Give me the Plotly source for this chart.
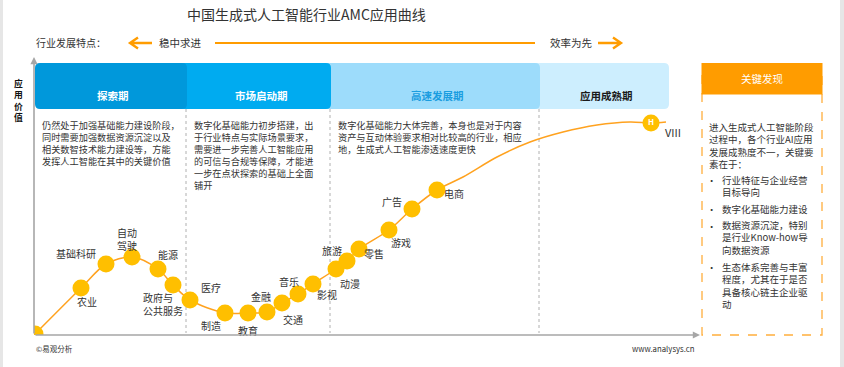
import plotly.graph_objects as go

# ---------------- data ----------------
industries = ["农业", "基础科研", "自动驾驶", "能源", "政府与公共服务", "医疗", "制造", "教育", "金融",
              "交通", "音乐", "影视", "旅游", "动漫", "零售", "游戏", "广告", "电商"]
maturity = [47, 72, 98, 124, 139, 156, 191, 214, 233, 248, 264, 279, 302, 313, 325, 355, 378, 403]
app_value = [47, 71, 78, 66, 50, 35, 22, 22, 23, 32, 41, 51, 66, 74, 86, 105, 126, 145]

origin_x, origin_y = [1], [1]
trend_x = [429, 463, 496, 529, 563, 596]
trend_y = [158, 178, 193, 203, 210, 213]
mature_x, mature_y, mature_label = [617], [212], ["VIII"]
end_x, end_y = [632], [213]

stages = ["探索期", "市场启动期", "高速发展期", "应用成熟期"]
stage_bounds = [1, 153, 297, 506, 635]
stage_texts = [
    ["仍然处于加强基础能力建设阶段，", "同时需要加强数据资源沉淀以及", "相关数智技术能力建设等，方能",
     "发挥人工智能在其中的关键价值"],
    ["数字化基础能力初步搭建，出", "于行业特点与实际场景要求，", "需要进一步完善人工智能应用",
     "的可信与合规等保障，才能进", "一步在点状探索的基础上全面", "铺开"],
    ["数字化基础能力大体完善，本身也是对于内容", "资产与互动体验要求相对比较高的行业，相应",
     "地，生成式人工智能渗透速度更快"],
    [],
]
key_intro = ["进入生成式人工智能阶段", "过程中，各个行业AI应用", "发展成熟度不一，关键要", "素在于："]
key_points = [["行业特征与企业经营", "目标导向"], ["数字化基础能力建设"],
              ["数据资源沉淀，特别", "是行业Know-how导", "向数据资源"],
              ["生态体系完善与丰富", "程度，尤其在于是否", "具备核心链主企业驱", "动"]]

# ---------------- styles ----------------
FONT = "Noto Sans CJK SC, Microsoft YaHei, sans-serif"
OFF = 0                      # page body margin is removed by post_script
W, H = 844, 367
TXT = "#333333"
ORANGE = "#FF9C00"
GOLD = "#FFBF00"
GRAY = "#A6A6A6"
stage_fill = ["#0098DB", "#00ABF0", "#9DDCFB", "#CDEEFE"]
stage_font = ["#FFFFFF", "#FFFFFF", "#1A9DE0", "#1A1A1A"]
display = {"自动驾驶": "自动<br>驾驶", "政府与公共服务": "政府与<br>公共服务"}
# label offsets in px (dx, dy downward), anchor
label_off = [(6, 13, "center"), (-30, -11, "center"), (-5, -18, "center"), (10, -15, "center"),
             (-31, 19, "left"), (21, -13, "center"), (-14, 12, "center"), (0, 17, "center"),
             (-6, -16, "center"), (11, 16, "center"), (-9, -13, "center"), (14, 10, "center"),
             (-4, -19, "center"), (3, 22, "center"), (15, 4, "center"), (12, 12, "center"),
             (-20, -8, "center"), (17, 3, "center")]


def PX(x):
    return (x - OFF) / W


def PY(y):
    return 1 - (y - OFF) / H


shapes, ann = [], []


def text(x, y, s, size, color=TXT, xanchor="left", yanchor="middle", xref="paper", bold=False, align="left"):
    ann.append(dict(x=x if xref == "x" else PX(x), y=PY(y), xref=xref, yref="paper",
                    text=f"<b>{s}</b>" if bold else s, showarrow=False, borderpad=0, align=align,
                    font=dict(size=size, color=color, family=FONT), xanchor=xanchor, yanchor=yanchor))


def block(x, y_first, lines, size, spacing, xref="paper", **kw):
    ymid = y_first + spacing * (len(lines) - 1) / 2
    text(x, ymid, "<br>".join(lines), size, xref=xref, **kw)


fig = go.Figure()

# curve
fig.add_trace(go.Scatter(x=origin_x + maturity + trend_x + mature_x + end_x,
                         y=origin_y + app_value + trend_y + mature_y + end_y,
                         mode="lines", line=dict(color="#FFA21F", width=1.5, shape="spline", smoothing=0.9),
                         hoverinfo="skip", showlegend=False))
fig.add_trace(go.Scatter(x=origin_x + maturity, y=origin_y + app_value, mode="markers",
                         marker=dict(size=17, color=GOLD), text=[""] + industries,
                         hoverinfo="text", showlegend=False))
fig.add_trace(go.Scatter(x=mature_x, y=mature_y, mode="markers+text", text=["<b>H</b>"],
                         textposition="middle center", textfont=dict(size=8, color="white", family=FONT),
                         marker=dict(size=17, color=GOLD), hoverinfo="skip", showlegend=False))

# point labels
for name, xv, yv, (dx, dy, anc) in zip(industries, maturity, app_value, label_off):
    ann.append(dict(x=xv, y=yv, xref="x", yref="y", text=display.get(name, name), showarrow=False,
                    xshift=dx, yshift=-dy, xanchor=anc, align="left", borderpad=0,
                    font=dict(size=10, color=TXT, family=FONT)))
ann.append(dict(x=mature_x[0], y=mature_y[0], xref="x", yref="y", text=mature_label[0], showarrow=False,
                xshift=22, yshift=-9, font=dict(size=11, color=TXT, family=FONT)))

# stage header boxes (drawn right to left so left boxes overlap)
r, ry = 5, 5 / H
Yt, Yb = PY(63), PY(109)
for i in reversed(range(len(stages))):
    x0 = stage_bounds[i] - (8 if i > 0 else 0)
    x1 = stage_bounds[i + 1]
    path = (f"M {x0 + r},{Yt} L {x1 - r},{Yt} Q {x1},{Yt} {x1},{Yt - ry} L {x1},{Yb + ry} "
            f"Q {x1},{Yb} {x1 - r},{Yb} L {x0 + r},{Yb} Q {x0},{Yb} {x0},{Yb + ry} "
            f"L {x0},{Yt - ry} Q {x0},{Yt} {x0 + r},{Yt} Z")
    shapes.append(dict(type="path", path=path, xref="x", yref="paper", fillcolor=stage_fill[i],
                       line=dict(width=0), layer="below"))
for i, s in enumerate(stages):
    ann.append(dict(x=(stage_bounds[i] + stage_bounds[i + 1]) / 2 + 2, y=PY(86), xref="x", yref="paper",
                    text=f"<b>{s}</b>", showarrow=False, font=dict(size=10.5, color=stage_font[i], family=FONT)))
    if stage_texts[i]:
        block(stage_bounds[i] + 6, 125.5, stage_texts[i], 9.2, 11.96, xref="x")

# separators
for b in stage_bounds[1:4]:
    shapes.append(dict(type="line", x0=b - 1, x1=b - 1, y0=PY(109), y1=PY(333), xref="x", yref="paper",
                       line=dict(color="#B0B0B0", width=1, dash="dot"), layer="below"))

# axes with arrows
ann.append(dict(x=0, y=278, ax=0, ay=0, xref="x", yref="y", axref="x", ayref="y", text="", showarrow=True,
                arrowhead=2, arrowsize=0.9, arrowwidth=1.6, arrowcolor=GRAY))
ann.append(dict(x=666, y=0, ax=0, ay=0, xref="x", yref="y", axref="x", ayref="y", text="", showarrow=True,
                arrowhead=2, arrowsize=0.9, arrowwidth=1.6, arrowcolor=GRAY))
text(18, 101, "<br>".join("应用价值"), 8.8, color="#111111", xanchor="center", bold=True, align="center")

# title and top row
text(306, 14, "中国生成式人工智能行业AMC应用曲线", 14, xanchor="center")
text(35, 42.5, "行业发展特点：", 10)
text(180, 42.5, "稳中求进", 10.5, xanchor="center")
text(571, 42.5, "效率为先", 10.5, xanchor="center")


def ppath(pts_list):
    out = []
    for pts in pts_list:
        out.append("M " + " L ".join(f"{PX(x)},{PY(y)}" for x, y in pts))
    return " ".join(out)


shapes.append(dict(type="path", xref="paper", yref="paper", line=dict(color=ORANGE, width=2.4),
                   path=ppath([[(152, 43), (130, 43)], [(138, 37.5), (130, 43), (138, 48.5)]])))
shapes.append(dict(type="path", xref="paper", yref="paper", line=dict(color=ORANGE, width=2.4),
                   path=ppath([[(598, 43), (621, 43)], [(613, 37.5), (621, 43), (613, 48.5)]])))
shapes.append(dict(type="line", xref="paper", yref="paper", x0=PX(215), x1=PX(535), y0=PY(43), y1=PY(43),
                   line=dict(color=ORANGE, width=2)))

# key findings box
shapes.append(dict(type="rect", xref="paper", yref="paper", x0=PX(702), x1=PX(822), y0=PY(70), y1=PY(335),
                   line=dict(color="#FFAE3D", width=1.3, dash="dash"), fillcolor="rgba(0,0,0,0)"))
shapes.append(dict(type="rect", xref="paper", yref="paper", x0=PX(701.5), x1=PX(822.5), y0=PY(63), y1=PY(94.5),
                   line=dict(width=0), fillcolor=ORANGE))
text(762, 79, "关键发现", 10.5, color="white", xanchor="center")
block(708, 126.7, key_intro, 9.5, 12.35)
block_y = [180, 209, 225.5, 267]
for by, pts in zip(block_y, key_points):
    text(711, by, "•", 9.3, xanchor="center")
    block(721, by, pts, 9.5, 12.35)

# footer
text(35, 348.5, "©易观分析", 7.5)
text(696, 348.5, "www.analysys.cn", 7.8, xanchor="right")

# edge strips
shapes.append(dict(type="rect", xref="paper", yref="paper", x0=0, x1=PX(3), y0=0, y1=1,
                   fillcolor="#E6E6E6", line=dict(width=0)))
shapes.append(dict(type="rect", xref="paper", yref="paper", x0=PX(840), x1=1, y0=0, y1=1,
                   fillcolor="#E6E6E6", line=dict(width=0)))

fig.update_layout(
    width=W, height=H, margin=dict(l=0, r=0, t=0, b=0), autosize=False,
    paper_bgcolor="white", plot_bgcolor="rgba(0,0,0,0)",
    xaxis=dict(domain=[PX(34), PX(700)], range=[0, 666], visible=False, fixedrange=True),
    yaxis=dict(domain=[PY(335), PY(57)], range=[0, 278], visible=False, fixedrange=True),
    shapes=shapes, annotations=ann, showlegend=False,
    font=dict(family=FONT, color=TXT),
)

fig.write_html("out.html", config={"displayModeBar": False},
               post_script="document.body.style.margin='0px';document.body.style.overflow='hidden';")
